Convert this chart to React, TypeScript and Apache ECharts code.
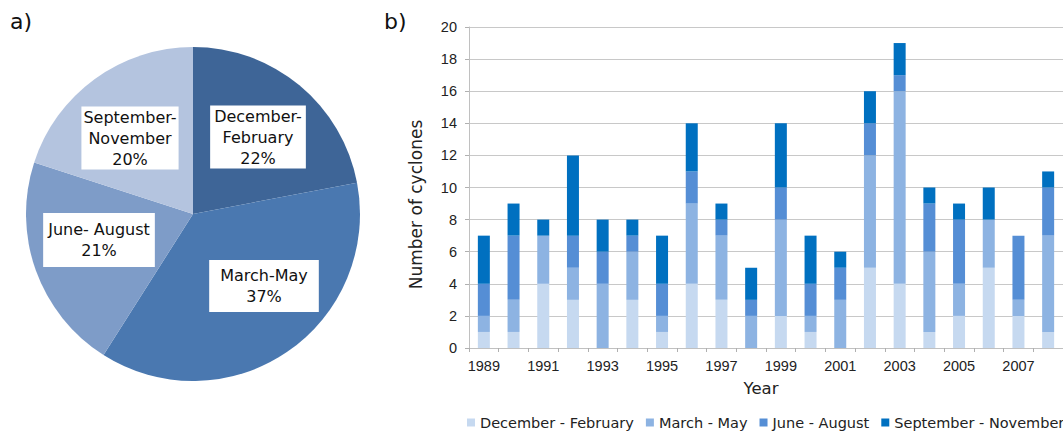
import React, { useEffect, useRef } from "react";
import * as echarts from "echarts";

const years = [
  "1989", "1990", "1991", "1992", "1993", "1994", "1995", "1996", "1997", "1998",
  "1999", "2000", "2001", "2002", "2003", "2004", "2005", "2006", "2007", "2008",
];
const decFeb = [1, 1, 4, 3, 0, 3, 1, 4, 3, 0, 2, 1, 0, 5, 4, 1, 2, 5, 2, 1];
const marMay = [1, 2, 3, 2, 4, 3, 1, 5, 4, 2, 6, 1, 3, 7, 12, 5, 2, 3, 1, 6];
const junAug = [2, 4, 0, 2, 2, 1, 2, 2, 1, 1, 2, 2, 2, 2, 1, 3, 4, 0, 4, 3];
const sepNov = [3, 2, 1, 5, 2, 1, 3, 3, 1, 2, 4, 3, 1, 2, 2, 1, 1, 2, 0, 1];
const seriesNames = ["December - February", "March - May", "June - August", "September - November"];

const pieNames = ["December-February", "March-May", "June-August", "September-November"];
const pieLabelText = ["December-\nFebruary", "March-May", "June- August", "September-\nNovember"];
const piePercent = [22, 37, 21, 20];

const barColors = ["#c6d9f0", "#8db3e2", "#558ed5", "#0070c0"];
const pieColors = ["#3e6597", "#4a78b0", "#7e9cc8", "#b4c4df"];
const pieLabelPos = [
  [258, 137],
  [264, 286],
  [99, 240],
  [130, 138],
];
const pieLabelPad = [
  [0, 4],
  [5, 11],
  [6, 5],
  [0, 2],
];

export default function App() {
  const ref = useRef<HTMLDivElement>(null);
  useEffect(() => {
    if (!ref.current) return;
    const chart = echarts.init(ref.current, undefined, { renderer: "svg" });
    const barData = [decFeb, marMay, junAug, sepNov];
    chart.setOption({
      animation: false,
      backgroundColor: "#ffffff",
      graphic: [
        {
          type: "text",
          left: 10,
          top: 10,
          style: { text: "a)", fontSize: 22, fontFamily: "DejaVu Sans", fill: "#111" },
        },
        {
          type: "text",
          left: 384,
          top: 10,
          style: { text: "b)", fontSize: 22, fontFamily: "DejaVu Sans", fill: "#111" },
        },
      ],
      legend: {
        data: seriesNames,
        left: 467,
        top: 415,
        width: 700,
        padding: 0,
        itemWidth: 8,
        itemHeight: 8,
        itemGap: 12,
        icon: "rect",
        textStyle: { fontFamily: "DejaVu Sans", fontSize: 14.5, color: "#222" },
      },
      grid: { left: 469, top: 27, width: 600, height: 321, containLabel: false },
      xAxis: {
        type: "category",
        data: years,
        boundaryGap: true,
        name: "Year",
        nameLocation: "middle",
        nameGap: 32,
        nameTextStyle: {
          fontFamily: "DejaVu Sans",
          fontSize: 16.5,
          color: "#222",
          padding: [0, 10, 0, 0],
        },
        axisLine: { lineStyle: { color: "#c0c0c0", width: 1 } },
        axisTick: { show: true, interval: 0, length: 4, lineStyle: { color: "#b0b0b0" } },
        axisLabel: {
          interval: 1,
          margin: 10,
          fontFamily: "Liberation Sans",
          fontSize: 14.5,
          color: "#222",
        },
      },
      yAxis: {
        type: "value",
        min: 0,
        max: 20,
        interval: 2,
        name: "Number of cyclones",
        nameLocation: "middle",
        nameGap: 45,
        nameTextStyle: {
          fontFamily: "DejaVu Sans",
          fontSize: 17,
          color: "#222",
          padding: [0, 34, 0, 0],
        },
        axisLine: { show: true, lineStyle: { color: "#c0c0c0", width: 1 } },
        axisTick: { show: true, length: 4, lineStyle: { color: "#b0b0b0" } },
        splitLine: { lineStyle: { color: "#c8c8c8", width: 1 } },
        axisLabel: { margin: 12, fontFamily: "Liberation Sans", fontSize: 14.5, color: "#222" },
      },
      series: [
        ...barData.map((d, i) => ({
          type: "bar",
          name: seriesNames[i],
          stack: "total",
          data: d,
          barWidth: 12,
          itemStyle: { color: barColors[i] },
        })),
        {
          type: "pie",
          name: "Season share",
          center: [193, 214],
          radius: 167,
          startAngle: 90,
          clockwise: true,
          silent: true,
          data: pieNames.map((n, i) => ({
            name: n,
            value: piePercent[i],
            itemStyle: { color: pieColors[i] },
            label: { padding: pieLabelPad[i] },
          })),
          label: {
            show: true,
            position: "inside",
            formatter: (p: any) => pieLabelText[p.dataIndex] + "\n" + p.value + "%",
            fontFamily: "DejaVu Sans",
            fontSize: 16,
            lineHeight: 21,
            color: "#111",
            backgroundColor: "#ffffff",
            align: "center",
          },
          labelLine: { show: false },
          labelLayout: (p: any) => ({
            x: pieLabelPos[p.dataIndex][0],
            y: pieLabelPos[p.dataIndex][1],
            align: "center",
            verticalAlign: "middle",
          }),
        },
      ],
    });
    return () => chart.dispose();
  }, []);
  return (
    <div
      ref={ref}
      style={{ position: "fixed", left: 0, top: 0, width: 1063, height: 433, background: "#fff" }}
    />
  );
}
